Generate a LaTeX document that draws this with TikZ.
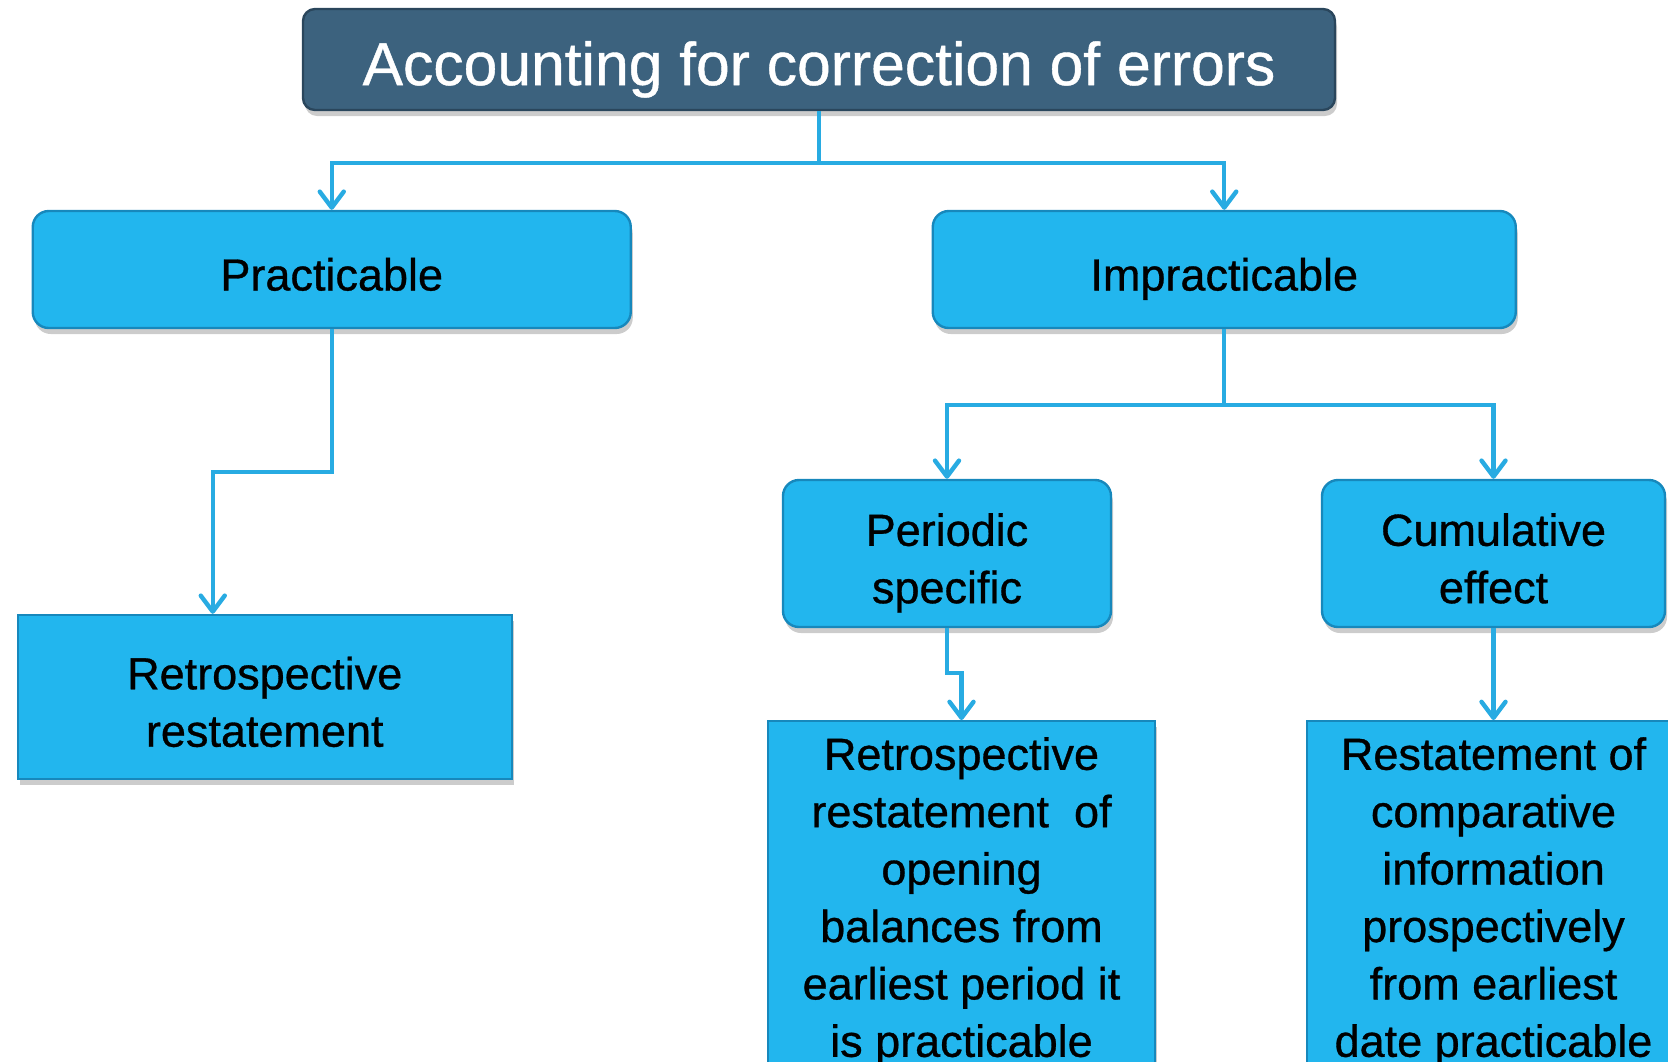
\documentclass[tikz,border=0pt]{standalone}
\usepackage{fontspec}
\setmainfont{Liberation Sans}
\newfontfamily\boxfont{Liberation Sans}[FakeBold=0.7]
\usetikzlibrary{arrows.meta,shadows}

\definecolor{headblue}{HTML}{3C627E}
\definecolor{headedge}{HTML}{2A465C}
\definecolor{boxblue}{HTML}{22B6EE}
\definecolor{boxedge}{HTML}{1788BC}
\definecolor{linkblue}{HTML}{28ABE2}

% two lines, first baseline a little above the centre
\newcommand{\boxlines}[2]{\rule{0pt}{26pt}#1\\#2\rule[-5pt]{0pt}{5pt}}

\tikzset{
  headbox/.style={rectangle, rounded corners=6pt, fill=headblue, draw=headedge, line width=1.2pt,
    text=white, font=\boxfont\fontsize{30.3}{36}\selectfont,
    inner ysep=0pt, text height=28pt, text depth=2.4pt,
    drop shadow={shadow xshift=1pt, shadow yshift=-3pt, opacity=0.4}},
  bluebox/.style={rectangle, rounded corners=8pt, fill=boxblue, draw=boxedge, line width=1.2pt,
    align=center, inner ysep=4pt, font=\boxfont\fontsize{22.5}{28.7}\selectfont,
    drop shadow={shadow xshift=1pt, shadow yshift=-3pt, opacity=0.4}},
  onebox/.style={bluebox, text height=23pt, text depth=2pt},
  flatbox/.style={bluebox, sharp corners},
  tallbox/.style={flatbox, anchor=north, inner ysep=8pt},
  link/.style={draw=linkblue, line width=2.2pt,
    -{Straight Barb[length=8pt, width=12pt, round]}}
}

\begin{document}
\begin{tikzpicture}[x=1pt, y=1pt,
level 1/.style={level distance=105pt, sibling distance=446.25pt},
level 2/.style={level distance=142pt, sibling distance=273.25pt},
level 3/.style={level distance=83.25pt},
edge from parent/.style={draw=none}
]
\useasboundingbox (0,0) rectangle (834,-530.5);

\node[headbox, minimum width=516pt, minimum height=50.5pt] (top) at (409.5,-29.75)
    {Accounting for correction of errors}
child[xshift=-20.5pt] {
    node[onebox, minimum width=299pt, minimum height=58.5pt] (prac) {Practicable}
    child[xshift=-33.5pt, level distance=213.75pt] {
        node[flatbox, minimum width=247pt, minimum height=82pt] (retro) {\boxlines{Retrospective}{restatement}}
    }
}
child[xshift=-20.5pt] {
    node[onebox, minimum width=291.5pt, minimum height=58.5pt] (imprac) {Impracticable}
    child[xshift=-2pt] {
        node[bluebox, minimum width=164pt, minimum height=73.5pt] (periodic) {\boxlines{Periodic}{specific}}
        child[xshift=7.25pt] {
            node[tallbox, minimum width=193.5pt] (opening)
            {Retrospective\\restatement\ \ of\\opening\\balances from\\earliest period it\\is practicable}
        }
    }
    child[xshift=-2pt] {
        node[bluebox, minimum width=171.5pt, minimum height=73.5pt] (cumul) {\boxlines{Cumulative}{effect}}
        child {
            node[tallbox, minimum width=186.5pt] (compar)
            {Restatement of\\comparative\\information\\prospectively\\from earliest\\date practicable}
        }
    }
};

% connectors
\coordinate (split) at ([yshift=-26pt]top.south);
\draw[link] (top.south) -- (split) -| (prac.north);
\draw[link] (split) -| (imprac.north);
\draw[link] (prac.south) -- ++(0,-71.5pt) -| ([xshift=-26pt]retro.north);
\coordinate (fork) at ([yshift=-38pt]imprac.south);
\draw[link] (imprac.south) -- (fork) -| (periodic.north);
\draw[link] (fork) -| (cumul.north);
\draw[link] (periodic.south) -- ++(0,-22.5pt) -| (opening.north);
\draw[link] (cumul.south) -- (compar.north);
\end{tikzpicture}
\end{document}
